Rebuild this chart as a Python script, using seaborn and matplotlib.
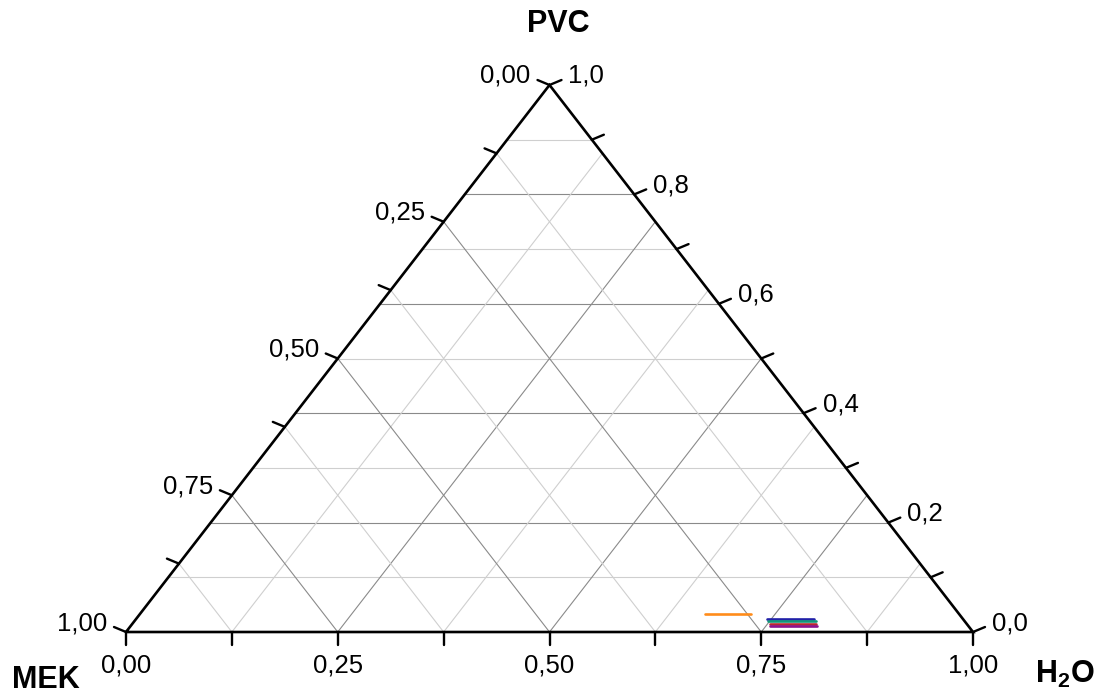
import numpy as np
import pandas as pd
import matplotlib
matplotlib.use("Agg")
import matplotlib.pyplot as plt
import seaborn as sns

# ---- data (ternary fractions: H2O, PVC; MEK = 1 - H2O - PVC) ----
series_names = ["s1", "s2", "s3", "s4", "s5"]
series_colors = ["#ff8c1a", "#2020a8", "#10977a", "#b8282e", "#8c128c"]
h2o_start = [0.667, 0.745, 0.748, 0.753, 0.755]
h2o_end = [0.722, 0.800, 0.805, 0.807, 0.810]
pvc_level = [0.032, 0.024, 0.0195, 0.015, 0.011]

bottom_ticks = [0.0, 0.25, 0.5, 0.75, 1.0]
bottom_labels = ["0,00", "0,25", "0,50", "0,75", "1,00"]
left_ticks = [0.0, 0.25, 0.5, 0.75, 1.0]
left_labels = ["0,00", "0,25", "0,50", "0,75", "1,00"]
right_ticks = [0.0, 0.2, 0.4, 0.6, 0.8, 1.0]
right_labels = ["0,0", "0,2", "0,4", "0,6", "0,8", "1,0"]

sns.set_style("white")
plt.rcParams["font.family"] = ["Liberation Sans", "DejaVu Sans"]
plt.rcParams["text.color"] = "black"
plt.rcParams["mathtext.fontset"] = "custom"
plt.rcParams["mathtext.bf"] = "Liberation Sans:bold"
plt.rcParams["mathtext.rm"] = "Liberation Sans"

W, H = 1101, 698
L, R, T, B = 126, 973, 85, 632
fig = plt.figure(figsize=(W / 100, H / 100), dpi=100)
ax = fig.add_axes([L / W, 1 - B / H, (R - L) / W, (B - T) / H])
ax.set_xlim(0, 1)
ax.set_ylim(0, 1)
ax.axis("off")

PX = 1.0 / (R - L)
PY = 1.0 / (B - T)


def tern(h, p):
    return h + p / 2.0, p


# ---- grid ----
major_c, minor_c, glw = "#8a8a8a", "#cfcfcf", 0.8
for i in range(1, 10):
    p = i / 10
    c = major_c if i % 2 == 0 else minor_c
    ax.plot([p / 2, 1 - p / 2], [p, p], color=c, lw=glw, zorder=1)
for i in range(1, 8):
    v = i / 8
    c = major_c if i % 2 == 0 else minor_c
    # constant H2O: bottom -> right edge
    ax.plot([v, v + (1 - v) / 2], [0, 1 - v], color=c, lw=glw, zorder=1)
    # constant MEK (=1-v): bottom -> left edge
    ax.plot([v, v / 2], [0, v], color=c, lw=glw, zorder=1)

# ---- triangle frame ----
ax.plot([0, 1, 0.5, 0], [0, 0, 1, 0], color="black", lw=1.9, zorder=3,
        clip_on=False, solid_joinstyle="miter")

fs = 18.5
tlw = 1.7
# bottom ticks (H2O)
for i in range(9):
    h = i / 8
    ax.plot([h, h], [0, -13 * PY], color="black", lw=tlw, clip_on=False, zorder=3)
for v, lab in zip(bottom_ticks, bottom_labels):
    ax.text(v, -34 * PY, lab, ha="center", va="center", fontsize=fs)

# left ticks (MEK)
for i in range(9):
    m = i / 8
    x0, y0 = (1 - m) / 2, 1 - m
    ax.plot([x0, x0 - 12 * PX], [y0, y0 + 5 * PY], color="black", lw=tlw,
            clip_on=False, zorder=3)
for m, lab in zip(left_ticks, left_labels):
    x0, y0 = (1 - m) / 2, 1 - m
    ax.text(x0 - 19 * PX, y0 + 9 * PY, lab, ha="right", va="center", fontsize=fs)

# right ticks (PVC)
for i in range(11):
    p = i / 10
    x0, y0 = 1 - p / 2, p
    ax.plot([x0, x0 + 12 * PX], [y0, y0 + 5 * PY], color="black", lw=tlw,
            clip_on=False, zorder=3)
for p, lab in zip(right_ticks, right_labels):
    x0, y0 = 1 - p / 2, p
    ax.text(x0 + 19 * PX, y0 + 9 * PY, lab, ha="left", va="center", fontsize=fs)

# axis titles
fig.text(558 / W, 1 - 24 / H, "PVC", ha="center", va="center", fontsize=22,
         fontweight="bold")
fig.text(46 / W, 1 - 680 / H, "MEK", ha="center", va="center", fontsize=22,
         fontweight="bold")
fig.text(1065 / W, 1 - 674 / H, r"$\mathbf{H_2O}$", ha="center", va="center",
         fontsize=22)

# ---- data lines ----
rows = []
for name, hs, he, p in zip(series_names, h2o_start, h2o_end, pvc_level):
    for h in (hs, he):
        x, y = tern(h, p)
        rows.append({"series": name, "x": x, "y": y})
df = pd.DataFrame(rows)
sns.lineplot(data=df, x="x", y="y", hue="series", palette=series_colors,
             estimator=None, sort=False, legend=False, lw=1.9, ax=ax, zorder=4)
ax.set_xlim(0, 1)
ax.set_ylim(0, 1)
ax.axis("off")

fig.savefig("out.png", dpi=100)
